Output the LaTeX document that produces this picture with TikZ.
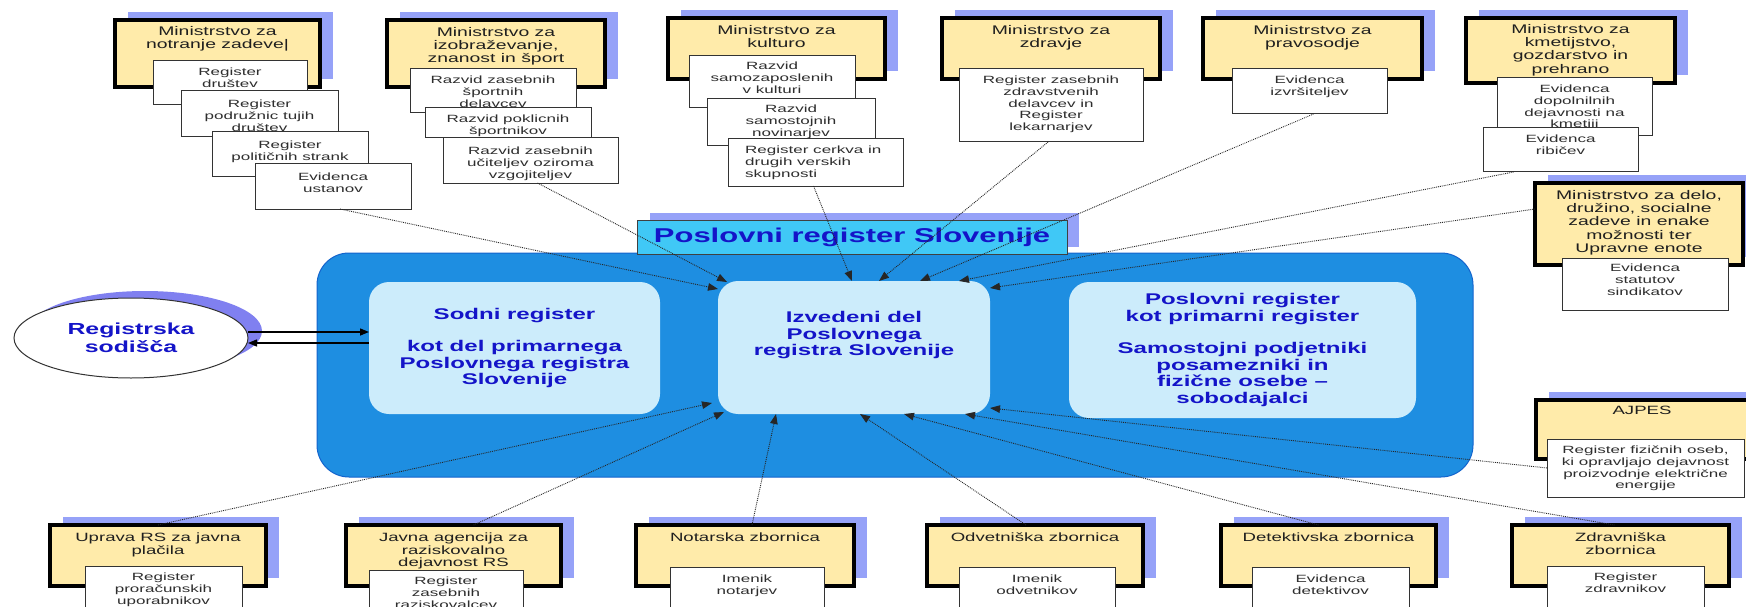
\documentclass[tikz,border=0pt]{standalone}
\usepackage{fontspec}
\setmainfont{Liberation Sans}[FakeStretch=1.55]
\newfontfamily\smallfont{Liberation Sans}[FakeStretch=1.62]
\usetikzlibrary{arrows.meta,shapes.geometric}
\definecolor{ylw}{RGB}{255,235,170}
\definecolor{shd}{RGB}{150,162,248}
\definecolor{shdell}{RGB}{128,128,240}
\definecolor{bigblue}{RGB}{30,142,225}
\definecolor{bigedge}{RGB}{20,100,205}
\definecolor{innerc}{RGB}{204,236,251}
\definecolor{ttl}{RGB}{64,200,246}
\definecolor{btxt}{RGB}{20,20,200}
\tikzset{
  ybox/.style={draw=black, line width=3.5pt, fill=ylw, rectangle, inner sep=0pt, outer sep=0pt, anchor=north west},
  wbox/.style={draw=black!80, line width=1pt, fill=white, rectangle, inner sep=0pt, outer sep=0pt, anchor=north west},
  ytxt/.style={align=center, inner sep=0pt, anchor=north, text=black!88, font=\fontsize{12.5}{13.3}\selectfont},
  ytxtb/.style={ytxt, font=\fontsize{12}{12.4}\selectfont},
  wtxt/.style={align=center, inner sep=0pt, anchor=north, text=black!82, font=\smallfont\fontsize{10.5}{11.7}\selectfont},
  bigbox/.style={draw=bigedge, fill=bigblue, line width=1pt, rounded corners=32pt, inner sep=0pt, outer sep=0pt, anchor=north west},
  inbox/.style={fill=innerc, rounded corners=20pt, inner sep=0pt, outer sep=0pt, anchor=north west, align=center, text=btxt, font=\bfseries\fontsize{15.5}{16.5}\selectfont},
  titlebox/.style={draw=black!75, line width=1pt, fill=ttl, inner sep=0pt, outer sep=0pt, anchor=north west, text=btxt, font=\bfseries\fontsize{20}{22}\selectfont},
  conn/.style={densely dotted, line width=0.9pt, black!85, -{Triangle[length=10pt,width=7.5pt]}},
  solidarr/.style={line width=1.4pt, black, -{Triangle[length=9pt,width=7pt]}}
}
\newcommand\ybx[8]{%
  \fill[shd] (#2+13,#3-8) rectangle (#4+13,#5-8);
  \node[ybox, minimum width=#4-#2, minimum height=#5-#3] (#1) at (#2,#3) {};
  \node[#6] at ([yshift=-#7pt]#1.north) {#8};
}
\newcommand\wbx[7]{%
  \node[wbox, minimum width=#4-#2, minimum height=#5-#3] (#1) at (#2,#3) {};
  \node[wtxt] at ([yshift=-#6pt]#1.north) {#7};
}
\begin{document}
\begin{tikzpicture}[x=1pt,y=-1pt]
\useasboundingbox (0,0) rectangle (1746,607);
\fill[white] (0,0) rectangle (1746,607);

% central structure
\node[bigbox, minimum width=1156, minimum height=224] (big) at (317,253) {};
\fill[shd] (650,213) rectangle (1079,247);
\node[titlebox, minimum width=430, minimum height=34] (tit) at (637,220) {Poslovni register Slovenije};
\node[inbox, minimum width=291, minimum height=132] (sodni) at (369,282) {Sodni register\\[16pt]kot del primarnega\\Poslovnega registra\\Slovenije};
\node[inbox, minimum width=272, minimum height=133] (izv) at (718,281) {Izvedeni del\\Poslovnega\\registra Slovenije\\[11pt]\mbox{}};
\node[inbox, minimum width=347, minimum height=136] (prim) at (1069,282) {Poslovni register\\kot primarni register\\[16pt]Samostojni podjetniki\\posamezniki in\\fizične osebe –\\sobodajalci};

% Registrska sodisca
\fill[shdell] (145,331) ellipse [x radius=117pt, y radius=40pt];
\node[ellipse, draw=black!80, fill=white, line width=1pt, minimum width=234, minimum height=80, inner sep=0pt, outer sep=0pt, align=center, text=btxt, font=\bfseries\fontsize{16}{18}\selectfont] (rs) at (131,338) {Registrska\\sodišča};
\coordinate (a1) at ([yshift=6pt]rs.east);
\coordinate (a2) at ([yshift=-5pt]rs.east);
\draw[solidarr] (a1) -- (a1 -| sodni.west);
\draw[solidarr] (a2 -| sodni.west) -- (a2);

% top row
\ybx{mnz}{115}{20}{320}{87}{ytxt}{6}{Ministrstvo za\\notranje zadeve\textbar}
\wbx{mnza}{153}{61}{307}{105}{7}{Register\\društev}
\wbx{mnzb}{181}{91}{338}{137}{9}{Register\\podružnic tujih\\društev}
\wbx{mnzc}{212}{132}{368}{177}{9}{Register\\političnih strank}
\wbx{mnzd}{255}{164}{411}{209}{9}{Evidenca\\ustanov}

\ybx{mizs}{387}{20}{605}{87}{ytxt}{7}{Ministrstvo za\\izobraževanje,\\znanost in šport}
\wbx{mizsa}{410}{69}{576}{113}{7}{Razvid zasebnih\\športnih\\delavcev}
\wbx{mizsb}{425}{108}{591}{138}{7}{Razvid poklicnih\\športnikov}
\wbx{mizsc}{443}{138}{618}{183}{9}{Razvid zasebnih\\učiteljev oziroma\\vzgojiteljev}

\ybx{mk}{668}{18}{885}{79}{ytxt}{7}{Ministrstvo za\\kulturo}
\wbx{mka}{689}{56}{855}{108}{6}{Razvid\\samozaposlenih\\v kulturi}
\wbx{mkb}{707}{99}{875}{146}{6}{Razvid\\samostojnih\\novinarjev}
\node[wbox, minimum width=175, minimum height=47] (mkc) at (728,139) {};
\node[wtxt, align=left, anchor=north west] at (745,146) {Register cerkva in\\drugih verskih\\skupnosti};

\ybx{mz}{942}{18}{1160}{79}{ytxt}{7}{Ministrstvo za\\zdravje}
\wbx{mzw}{959}{69}{1143}{142}{7}{Register zasebnih\\zdravstvenih\\delavcev in\\Register\\lekarnarjev}

\ybx{mp}{1203}{18}{1422}{79}{ytxt}{7}{Ministrstvo za\\pravosodje}
\wbx{mpw}{1232}{69}{1387}{114}{7}{Evidenca\\izvršiteljev}

\ybx{mkgp}{1466}{18}{1675}{83}{ytxt}{6}{Ministrstvo za\\kmetijstvo,\\gozdarstvo in\\prehrano}
\wbx{mkgpa}{1497}{78}{1652}{136}{7}{Evidenca\\dopolnilnih\\dejavnosti na\\kmetiji}
\wbx{mkgpb}{1483}{128}{1638}{172}{7}{Evidenca\\ribičev}

\ybx{mddsz}{1535}{183}{1743}{265}{ytxt}{7}{Ministrstvo za delo,\\družino, socialne\\zadeve in enake\\možnosti ter\\Upravne enote}
\wbx{mddszw}{1562}{258}{1728}{310}{6}{Evidenca\\statutov\\sindikatov}

\ybx{ajp}{1536}{400}{1748}{459}{ytxtb}{6}{AJPES}
\wbx{ajpw}{1547}{439}{1744}{497}{7}{Register fizičnih oseb,\\ki opravljajo dejavnost\\proizvodnje električne\\energije}

% bottom row
\ybx{upr}{50}{525}{266}{586}{ytxtb}{8}{Uprava RS za javna\\plačila}
\wbx{uprw}{85}{566}{242}{615}{7}{Register\\proračunskih\\uporabnikov}
\ybx{jav}{346}{525}{561}{586}{ytxtb}{8}{Javna agencija za\\raziskovalno\\dejavnost RS}
\wbx{javw}{369}{570}{523}{615}{7}{Register\\zasebnih\\raziskovalcev}
\ybx{notz}{636}{525}{854}{586}{ytxtb}{8}{Notarska zbornica}
\wbx{notw}{670}{567}{824}{615}{8}{Imenik\\notarjev}
\ybx{odv}{927}{525}{1143}{586}{ytxtb}{8}{Odvetniška zbornica}
\wbx{odvw}{959}{567}{1115}{615}{8}{Imenik\\odvetnikov}
\ybx{detz}{1221}{525}{1436}{586}{ytxtb}{8}{Detektivska zbornica}
\wbx{detw}{1252}{567}{1409}{615}{8}{Evidenca\\detektivov}
\ybx{zdr}{1512}{525}{1729}{586}{ytxtb}{8}{Zdravniška\\zbornica}
\wbx{zdrw}{1547}{566}{1704}{615}{7}{Register\\zdravnikov}

% connector end points on the central box
\coordinate (t1) at (718,289);
\coordinate (t2) at (727,282);
\coordinate (t3) at (852,281);
\coordinate (t4) at (879,281);
\coordinate (t5) at (920,281);
\coordinate (t6) at (959,281);
\coordinate (t7) at (990,288);
\coordinate (b1) at (712,403);
\coordinate (b2) at (724,412);
\coordinate (b3) at (776,414);
\coordinate (b4) at (860,414);
\coordinate (b5) at (904,414);
\coordinate (b6) at (965,414);
\coordinate (b7) at (990,408);

\draw[conn] ([xshift=7pt]mnzd.south) -- (t1);
\draw[conn] ([xshift=7pt]mizsc.south) -- (t2);
\draw[conn] ([xshift=-2pt]mkc.south) -- (t3);
\draw[conn] ([xshift=-3pt]mzw.south) -- (t4);
\draw[conn] ([xshift=4pt]mpw.south) -- (t5);
\draw[conn] ([xshift=-47pt]mkgpb.south) -- (t6);
\draw[conn] ([yshift=15pt]mddsz.west) -- (t7);
\draw[conn] (upr.north) -- (b1);
\draw[conn] ([xshift=20pt]jav.north) -- (b2);
\draw[conn] ([xshift=7pt]notz.north) -- (b3);
\draw[conn] ([xshift=-9pt]odv.north) -- (b4);
\draw[conn] ([xshift=-10pt]detz.north) -- (b5);
\draw[conn] ([xshift=-6pt]zdr.north) -- (b6);
\draw[conn] (ajpw.west) -- (b7);
\end{tikzpicture}
\end{document}
